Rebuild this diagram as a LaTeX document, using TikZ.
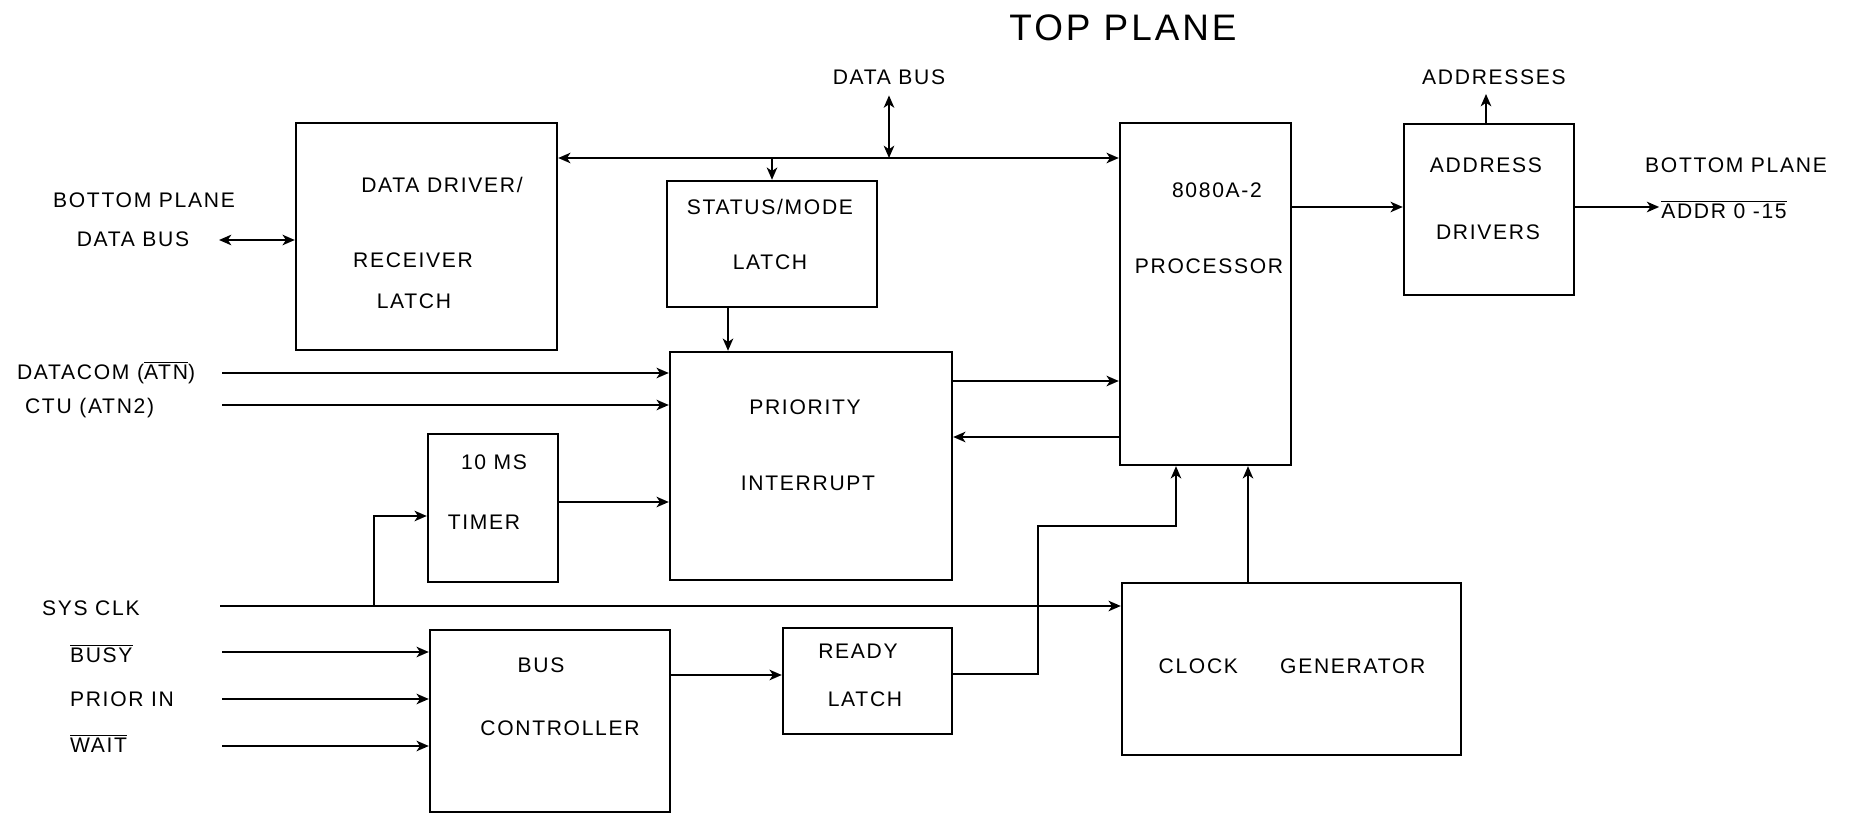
\documentclass[tikz,border=0pt]{standalone}
\usepackage{fontspec}
\setmainfont{Liberation Sans}[LetterSpace=8]
\usetikzlibrary{arrows.meta,calc}
\newcommand{\ovl}[1]{$\overline{\mbox{#1}}$}

\begin{document}
\begin{tikzpicture}[
            x=0.02cm, y=-0.02cm,
            block/.style={
                    draw,
                    line width=1.4pt,
                    inner sep=0pt
                },
            txt/.style={
                    inner sep=1pt,
                    text height=0.72em,
                    text depth=0pt,
                    font=\fontsize{12}{14}\selectfont
                },
            wire/.style={
                    -{Stealth[length=7pt,width=6pt,inset=2pt]},
                    line width=1.1pt
                },
            both/.style={
                    {Stealth[length=7pt,width=6pt,inset=2pt]}-{Stealth[length=7pt,width=6pt,inset=2pt]}
                }
        ]
        \useasboundingbox (0,0) rectangle (1850,814);

        % Blocs
        \node[block, minimum width=5.22cm, minimum height=4.54cm] (drv) at (426.5,236.5) {};
        \node[block, minimum width=4.2cm, minimum height=2.52cm] (stat) at (772,244) {};
        \node[block, minimum width=5.64cm, minimum height=4.56cm] (prio) at (811,466) {};
        \node[block, minimum width=3.42cm, minimum height=6.84cm] (cpu) at (1205.5,294) {};
        \node[block, minimum width=3.4cm, minimum height=3.42cm] (addr) at (1489,209.5) {};
        \node[block, minimum width=2.6cm, minimum height=2.96cm] (timer) at (493,508) {};
        \node[block, minimum width=4.8cm, minimum height=3.64cm] (busc) at (550,721) {};
        \node[block, minimum width=3.38cm, minimum height=2.12cm] (rdy) at (867.5,681) {};
        \node[block, minimum width=6.78cm, minimum height=3.44cm] (clk) at (1291.5,669) {};

        % Textes des blocs
        \node[txt] (drvA) at (442,186) {DATA DRIVER/};
        \node[txt] (drvB) at (413,261) {RECEIVER};
        \node[txt] (drvC) at (414,302) {LATCH};
        \node[txt] (statA) at (770,208) {STATUS/MODE};
        \node[txt] (statB) at (770,263) {LATCH};
        \node[txt] (prioA) at (805,408) {PRIORITY};
        \node[txt] (prioB) at (808,484) {INTERRUPT};
        \node[txt] (cpuA) at (1217,191) {8080A-2};
        \node[txt] (cpuB) at (1209,267) {PROCESSOR};
        \node[txt] (addrA) at (1486,166) {ADDRESS};
        \node[txt] (addrB) at (1488,233) {DRIVERS};
        \node[txt] (timerA) at (494,463) {10 MS};
        \node[txt] (timerB) at (484,523) {TIMER};
        \node[txt] (buscA) at (541,666) {BUS};
        \node[txt] (buscB) at (560,729) {CONTROLLER};
        \node[txt] (rdyA) at (858,652) {READY};
        \node[txt] (rdyB) at (865,700) {LATCH};
        \node[txt] (clkA) at (1292,667) {CLOCK\hspace{2em}GENERATOR};

        % Etiquettes
        \node[txt, font=\fontsize{21}{24}\selectfont] (top) at (1123,34) {TOP PLANE};
        \node[txt] (dbuslbl) at (889,78) {DATA BUS};
        \node[txt] (addrslbl) at (1494,78) {ADDRESSES};
        \node[txt] (bplA) at (144,201) {BOTTOM PLANE};
        \node[txt] (bplB) at (133,240) {DATA BUS};
        \node[txt] (bprA) at (1736,166) {BOTTOM PLANE};
        \node[txt] (addrout) at (1724,212) {\ovl{ADDR 0 -15}};
        \node[txt, anchor=west] (inAlbl) at (15,373) {DATACOM (\ovl{ATN})};
        \node[txt, anchor=west] (inBlbl) at (23,407) {CTU (ATN2)};
        \node[txt, anchor=west] (clklbl) at (40,609) {SYS CLK};
        \node[txt, anchor=west] (inClbl) at (68,656) {\ovl{BUSY}};
        \node[txt, anchor=west] (inDlbl) at (68,700) {PRIOR IN};
        \node[txt, anchor=west] (inElbl) at (68,746) {\ovl{WAIT}};

        % Extremites libres
        \coordinate (bpin) at (219,240);
        \coordinate (inA) at (222,373);
        \coordinate (inB) at (222,405);
        \coordinate (inclk) at (220,606);
        \coordinate (clkbr) at (374,606);
        \coordinate (inC) at (222,652);
        \coordinate (inD) at (222,699);
        \coordinate (inE) at (222,746);
        \coordinate (addrtop) at (1486,94);

        % Bus de donnees
        \draw[wire, both] (drv.east |- 0,158) -- (cpu.west |- 0,158);
        \draw[wire, both] ($(dbuslbl.south)+(0,9)$) -- (889,158);
        \draw[wire] (stat.north |- 0,158) -- (stat.north);
        \draw[wire] (stat.south -| 728,0) -- (prio.north -| 728,0);
        \draw[wire, both] (bpin) -- (bpin -| drv.west);

        % Interruptions
        \draw[wire] (inA) -- (inA -| prio.west);
        \draw[wire] (inB) -- (inB -| prio.west);
        \draw[wire] (timer.east |- 0,502) -- (prio.west |- 0,502);
        \draw[wire] (prio.east |- 0,381) -- (cpu.west |- 0,381);
        \draw[wire] (cpu.west |- 0,437) -- (prio.east |- 0,437);

        % Adresses
        \draw[wire] (cpu.east |- 0,207) -- (addr.west |- 0,207);
        \draw[wire] (addr.east |- 0,207) -- (addrout.west |- 0,207);
        \draw[wire] (addr.north -| addrtop) -- (addrtop);

        % Horloge
        \draw[wire] (inclk) -- (inclk -| clk.west);
        \draw[wire] (clkbr) |- (timer.west |- 0,516);
        \draw[wire, line width=0.8pt] (clk.north -| 1248,0) -- (cpu.south -| 1248,0);

        % Controle de bus
        \draw[wire] (inC) -- (inC -| busc.west);
        \draw[wire] (inD) -- (inD -| busc.west);
        \draw[wire] (inE) -- (inE -| busc.west);
        \draw[wire] (busc.east |- 0,675) -- (rdy.west |- 0,675);
        \draw[wire, line width=0.8pt] (rdy.east |- 0,674) -| (1038,526) -| (cpu.south -| 1176,0);

    \end{tikzpicture}
\end{document}
